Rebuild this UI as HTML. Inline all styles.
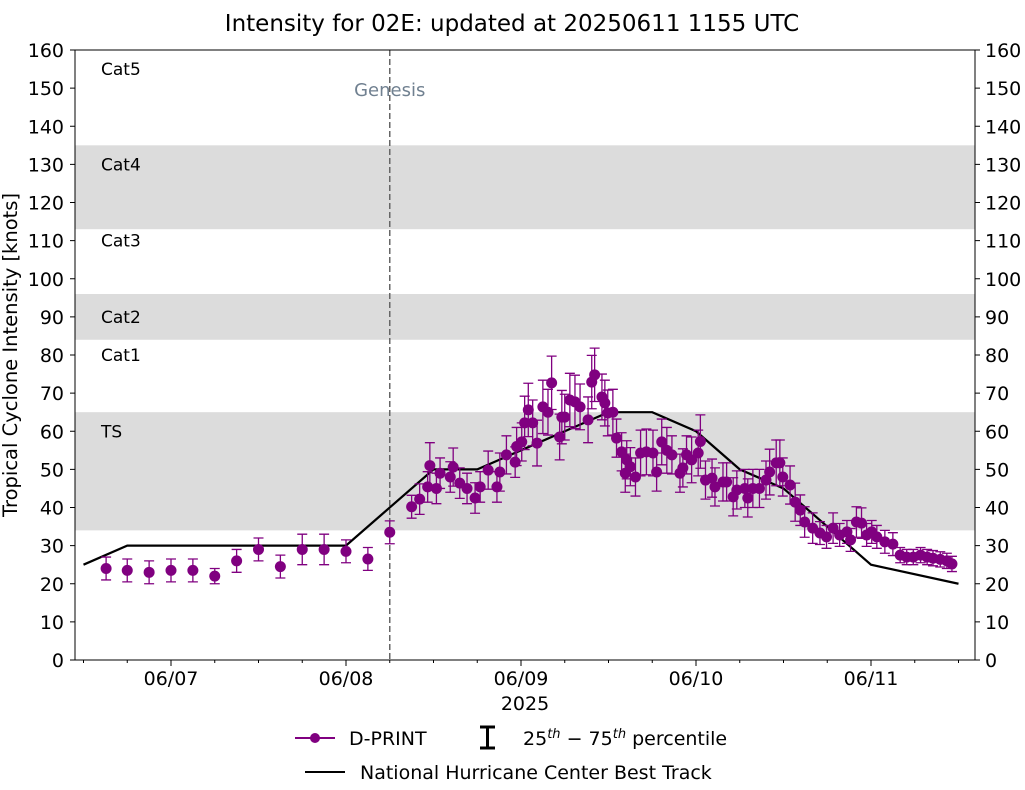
<!DOCTYPE html>
<html><head><meta charset="utf-8"><style>
body{margin:0;background:#fff;}
svg text{font-family:"DejaVu Sans","Liberation Sans",sans-serif;}
</style></head><body>
<svg id="chart" width="1025" height="785" viewBox="0 0 1025 785" xmlns="http://www.w3.org/2000/svg">
<text x="512" y="31" font-size="23" text-anchor="middle">Intensity for 02E: updated at 20250611 1155 UTC</text>
<g id="bands"></g>
<g id="grid"></g>
<g id="marks"></g>
<rect x="75" y="50" width="900" height="610" fill="none" stroke="#000" stroke-width="1"/>
<text transform="translate(17,355) rotate(-90)" font-size="19.5" text-anchor="middle">Tropical Cyclone Intensity [knots]</text>
<text x="525" y="710" font-size="19" text-anchor="middle">2025</text>
<g>
<line x1="295" y1="738" x2="335" y2="738" stroke="#800080" stroke-width="2"/>
<circle cx="315" cy="738" r="5" fill="#800080"/>
<text x="349" y="745" font-size="19">D-PRINT</text>
<path d="M480 727 H495 M487.5 727 V748 M480 748 H495" stroke="#000" stroke-width="3" fill="none"/>
<text x="523" y="745" font-size="19">25<tspan font-size="13" dy="-7" font-style="italic">th</tspan><tspan dy="7"> − 75</tspan><tspan font-size="13" dy="-7" font-style="italic">th</tspan><tspan dy="7"> percentile</tspan></text>
<line x1="305" y1="772" x2="345" y2="772" stroke="#000" stroke-width="2"/>
<text x="360" y="779" font-size="19">National Hurricane Center Best Track</text>
</g>
</svg>
<script>
const bandRanges=[[34,65],[84,96],[113,135]];
const catLabels=["TS","Cat1","Cat2","Cat3","Cat4","Cat5"];
const catLabelVals=[60,80,90,110,130,155];
const yTicks=[0,10,20,30,40,50,60,70,80,90,100,110,120,130,140,150,160];
const xTickHours=[0,24,48,72,96];
const xTickLabels=["06/07","06/08","06/09","06/10","06/11"];
const genesisHour=30;
const btHours=[-12,-6,0,6,12,18,24,36,42,48,54,60,66,72,78,84,90,96,108];
const btValues=[25,30,30,30,30,30,30,50,50,55,60,65,65,60,50,45,35,25,20];
const dpHours=[-8.9,-6,-3,0,3,6,9,12,15,18,21,24,27,30,33.0,34.1,35.2,35.5,36.4,36.9,38.3,38.7,39.6,40.6,41.7,42.4,43.5,44.7,45.1,46.0,47.2,47.4,48.1,48.5,49.0,49.6,50.2,51.0,51.7,52.2,53.3,53.6,54.0,54.7,55.4,56.1,57.2,57.7,58.1,59.1,59.5,59.9,60.6,61.1,61.8,62.3,62.5,63.0,63.7,64.4,65.2,66.1,66.6,67.3,68.0,68.7,69.8,70.2,70.7,71.4,72.3,72.6,73.3,74.2,74.6,75.7,76.2,77.1,77.6,78.7,79.1,79.8,80.7,81.6,82.1,83.0,83.5,83.9,84.9,85.6,86.3,86.9,88.0,89.0,89.9,90.8,91.7,92.7,93.2,94.0,94.7,95.4,96.1,96.8,97.9,99.0,100.0,100.9,101.8,102.8,103.7,104.5,105.5,106.4,107.1];
const dpValues=[24,23.5,23,23.5,23.5,22,26,29,24.5,29,29,28.5,26.5,33.5,40.2,42.2,45.4,51,45,49,48,50.6,46.4,45,42.5,45.4,49.8,45.4,49.3,53.8,51.9,56,57.2,62.2,65.6,62.2,56.9,66.4,65,72.7,58.5,63.7,63.7,68.2,67.7,66.4,63,72.9,74.8,69,67.4,64.8,65,58.2,54.6,49,52.5,50.7,48,54.3,54.6,54.3,49.3,57.2,55,53.8,49,50.4,53.8,52.5,54.3,57.3,47.2,47.7,45.4,46.7,46.7,42.8,44.6,45,42.5,45,45,47.2,49.3,51.7,51.7,48,45.9,41.4,39.3,36.2,34.6,33.3,32.3,34.6,32.8,33.6,31.5,36.2,35.9,32.8,33.6,32.3,31,30.4,27.5,27,27,27.5,27,26.7,26.4,26,25.2];
const dpErrors=[3,3,3,3,3,2,3,3,3,4,4,3,3,3,3,4,4,6,4,4,4,5,4,4,4,4,5,4,5,5,4,5,5,7,7,6,6,7,6,7,6,7,6,7,7,6,6,7,7,6,6,6,6,5,5,5,5,5,5,6,6,6,5,6,6,5,5,5,5,6,6,7,5,5,5,5,5,5,5,5,5,5,5,5,6,6,6,5,5,5,4,4,4,3,3,4,3,3,3,4,4,3,3,3,3,3,2,2,2,2,2,2,2,2,2];
const X0=75,X1=975,Y0=660,Y1=50;
const xs=h=>171+h*175/24;
const ys=v=>Y0-v*(Y0-Y1)/160;
const NS="http://www.w3.org/2000/svg";
function mk(tag,attrs,parent,text){const e=document.createElementNS(NS,tag);for(const k in attrs)e.setAttribute(k,attrs[k]);if(text!==undefined)e.textContent=text;parent.appendChild(e);return e;}
const bands=document.getElementById('bands'),grid=document.getElementById('grid'),marks=document.getElementById('marks');
bandRanges.forEach(r=>{const e=mk('rect',{x:X0,y:ys(r[1]),width:X1-X0,height:ys(r[0])-ys(r[1]),fill:'#dcdcdc'},bands);

});
catLabels.forEach((t,i)=>{const e=mk('text',{x:101,y:ys(catLabelVals[i])+6,'font-size':17},bands,t);

});
yTicks.forEach(v=>{const y=ys(v);
mk('line',{x1:X0-5,x2:X0,y1:y,y2:y,stroke:'#000'},grid);
mk('line',{x1:X1,x2:X1+5,y1:y,y2:y,stroke:'#000'},grid);
const l=mk('text',{x:X0-11,y:y+7,'font-size':19,'text-anchor':'end'},grid,String(v));


const r=mk('text',{x:X1+10,y:y+7,'font-size':19},grid,String(v));

});
for(let h=-12;h<=114;h+=6){const x=xs(h);if(x<X0||x>X1)continue;mk('line',{x1:x,x2:x,y1:Y0,y2:Y0+3,stroke:'#000'},grid);}
xTickHours.forEach((h,i)=>{const x=xs(h);mk('line',{x1:x,x2:x,y1:Y0,y2:Y0+6,stroke:'#000'},grid);
const t=mk('text',{x:x,y:Y0+25,'font-size':19,'text-anchor':'middle'},grid,xTickLabels[i]);

});
const g=xs(genesisHour);
const gl=mk('line',{x1:g,x2:g,y1:Y1,y2:Y0,stroke:'#666','stroke-dasharray':'6,3','stroke-width':1.5},marks);


const gt=mk('text',{x:g,y:96,'font-size':18,'text-anchor':'middle',fill:'#708090'},marks,'Genesis');


const bt=mk('polyline',{points:btHours.map((h,i)=>xs(h)+','+ys(btValues[i])).join(' '),fill:'none',stroke:'#000','stroke-width':2.2},marks);


dpHours.forEach((h,i)=>{const x=xs(h),v=dpValues[i],e=dpErrors[i];const yt=ys(v+e),yb=ys(v-e);
const eb=mk('path',{d:`M${x-5} ${yt}H${x+5}M${x} ${yt}V${yb}M${x-5} ${yb}H${x+5}`,stroke:'#800080','stroke-width':1.3,fill:'none'},marks);

});
dpHours.forEach((h,i)=>{const c=mk('circle',{cx:xs(h),cy:ys(dpValues[i]),r:5.5,fill:'#800080'},marks);

});
</script>
</body></html>
